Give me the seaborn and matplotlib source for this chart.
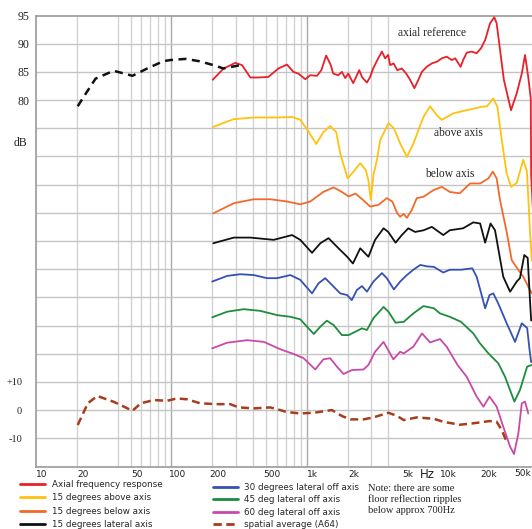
import numpy as np
import pandas as pd
import matplotlib
matplotlib.use("Agg")
import matplotlib.pyplot as plt
import matplotlib.transforms as mtransforms
from matplotlib.lines import Line2D
from matplotlib.ticker import NullLocator
import seaborn as sns

sns.set_theme(style="white")
plt.rcParams["font.family"] = ["DejaVu Sans"]
SERIF = "Liberation Serif"

# ---- measured responses (Hz, dB as plotted, each curve offset for clarity) ----
axial_lf_hz = [20.3, 22.5, 27.5, 37.4, 51.5, 66.2, 87.3, 98.3, 127, 160, 204, 242, 323]
axial_lf_db = [78.9, 80.6, 83.8, 85.2, 84.3, 85.6, 86.9, 87.1, 87.3, 86.9, 86.2, 85.6, 86.2]

axial_hz = [202, 243, 297, 332, 383, 438, 520, 617, 714, 796, 865, 975, 1061, 1190, 1281,
            1391, 1505, 1568, 1708, 1818, 1924, 2025, 2203, 2346, 2441, 2568, 2782, 2939,
            3093, 3370, 3591, 3792, 3995, 4131, 4379, 4665, 5040, 5427, 5800, 6240, 6680,
            7085, 7700, 8390, 9140, 9950, 10800, 11800, 12500, 13700, 14300, 15200, 16500,
            18000, 19400, 20800, 22600, 24300, 25300, 26800, 28600, 32300, 35600, 38800,
            41000, 43300, 45200, 45500, 47000]
axial_db = [83.6, 85.6, 86.6, 86.2, 84.0, 84.0, 84.1, 85.6, 86.3, 85.0, 84.7, 83.7, 84.4,
            84.3, 85.3, 87.9, 86.2, 84.7, 84.4, 85.0, 83.9, 84.7, 83.0, 84.4, 85.3, 84.0,
            83.1, 84.1, 85.6, 87.4, 88.6, 87.4, 88.0, 86.2, 86.5, 85.3, 85.6, 84.7, 83.6,
            82.1, 83.6, 85.0, 85.9, 86.5, 86.8, 87.4, 87.7, 87.1, 87.4, 85.9, 87.1, 88.4,
            88.6, 88.3, 89.2, 90.65, 93.6, 94.7, 93.6, 88.9, 83.6, 78.2, 81.2, 84.7, 88.0,
            84.1, 80.3, 66.7, 60.0]

above_hz = [202, 287, 403, 606, 778, 895, 1031, 1175, 1325, 1490, 1650, 1766, 1870, 2007,
            2214, 2483, 2727, 2849, 2975, 3109, 3299, 3488, 4014, 4401, 4899, 5490, 6134,
            7286, 8152, 9141, 9950, 12100, 15200, 19600, 21500, 23900, 25600, 27600, 30000,
            32300, 35600, 39800, 42300, 44600, 46000]
above_db = [75.2, 76.6, 76.9, 76.9, 77.0, 76.5, 74.4, 72.2, 74.3, 75.4, 74.3, 70.6, 68.5,
            66.1, 67.3, 68.8, 67.6, 65.8, 62.3, 66.7, 69.4, 72.9, 75.9, 75.0, 72.3, 69.9,
            72.3, 77.0, 78.9, 77.3, 76.5, 77.65, 78.2, 78.8, 78.9, 80.3, 78.8, 72.9, 67.0,
            64.6, 65.3, 69.4, 67.4, 56.9, 51.5]

below_hz = [204, 289, 406, 538, 715, 895, 1061, 1325, 1576, 1818, 2035, 2287, 2627, 2939,
            3389, 3905, 4283, 4665, 4899, 5200, 5490, 5970, 6500, 7300, 8600, 9950, 11400,
            13500, 16100, 19100, 22000, 23700, 25300, 26800, 30000, 32700, 36600, 39800,
            43300, 46000]
below_db = [59.9, 61.7, 62.4, 62.4, 62.0, 61.5, 62.0, 63.7, 64.5, 63.7, 62.9, 63.4, 62.2,
            61.1, 61.4, 62.6, 62.0, 59.9, 59.3, 59.8, 59.1, 60.5, 62.6, 62.85, 64.0, 64.6,
            63.7, 63.45, 65.2, 65.2, 66.1, 67.3, 66.1, 62.25, 56.6, 51.6, 49.85, 48.65,
            46.9, 45.7]

lat15_hz = [204, 289, 383, 570, 778, 895, 1093, 1260, 1448, 1716, 1988, 2192, 2483, 2855,
            3198, 3693, 4000, 4531, 5040, 5630, 6316, 7300, 8400, 9100, 10200, 11400, 14300,
            17000, 19100, 20800, 22800, 24600, 28300, 31800, 35600, 37600, 40500, 42900,
            44600, 45500]
lat15_db = [54.6, 55.6, 55.6, 55.2, 56.05, 55.2, 52.9, 54.6, 55.5, 53.7, 52.2, 51.0, 53.7,
            52.2, 55.2, 57.25, 56.6, 54.7, 56.05, 57.25, 56.6, 56.9, 57.5, 56.9, 56.05, 56.9,
            57.25, 58.3, 58.1, 54.7, 58.1, 56.9, 48.65, 46.0, 47.8, 48.4, 52.5, 52.0, 44.5,
            40.9]

lat30_hz = [200, 258, 323, 406, 509, 603, 757, 895, 1093, 1223, 1368, 1534, 1766, 1990,
            2150, 2346, 2557, 2782, 3109, 3591, 3905, 4401, 4899, 5490, 6134, 6900, 7700,
            8700, 10200, 11400, 13800, 16700, 18000, 19600, 20800, 22400, 23900, 26000,
            30000, 34600, 38800, 42500, 44300, 45500]
lat30_db = [47.8, 48.8, 49.1, 48.95, 48.4, 48.4, 48.95, 48.1, 45.7, 47.5, 48.4, 47.2, 45.7,
            45.4, 44.5, 46.3, 47.0, 46.0, 47.8, 49.3, 48.4, 46.4, 47.8, 48.95, 49.9, 50.75,
            50.5, 50.4, 49.4, 49.9, 49.9, 50.15, 48.65, 45.4, 43.05, 45.4, 45.7, 43.9, 40.4,
            37.1, 40.4, 39.55, 35.65, 33.5]

lat45_hz = [200, 258, 342, 453, 603, 757, 895, 1003, 1126, 1260, 1406, 1576, 1818, 2035,
            2287, 2557, 2782, 3109, 3693, 4014, 4531, 5200, 6134, 7286, 8700, 9650, 11400,
            13800, 17000, 19100, 22000, 26000, 29200, 34200, 37600, 42500, 46000]
lat45_db = [41.45, 42.45, 42.9, 42.6, 41.85, 41.55, 41.1, 39.8, 38.5, 39.8, 40.85, 40.1,
            38.3, 38.3, 38.9, 39.5, 39.2, 41.3, 43.3, 42.45, 40.5, 40.65, 42.15, 43.45, 43.05,
            42.15, 41.55, 40.65, 38.6, 36.8, 35.05, 33.3, 30.9, 26.5, 28.55, 32.7, 33.0]

lat60_hz = [200, 258, 362, 481, 636, 800, 947, 1155, 1325, 1490, 1670, 1870, 2155, 2627,
            2852, 3198, 3693, 4360, 4899, 5200, 6134, 7100, 8150, 9650, 10800, 13000, 15200,
            18000, 20200, 22400, 25300, 28300, 31800, 34000, 36600, 38800, 41000, 43300]
lat60_db = [35.95, 36.95, 37.4, 37.1, 35.8, 34.95, 34.2, 32.2, 34.0, 34.2, 32.7, 31.4, 32.1,
            32.2, 33.0, 35.35, 37.1, 34.0, 35.35, 35.05, 36.25, 38.6, 37.0, 37.6, 36.25, 33.0,
            30.9, 27.4, 25.6, 27.4, 25.6, 22.05, 18.5, 17.2, 20.85, 26.2, 26.5, 24.4]

# spatial average, relative dB on its own scale
spatial_hz = [20.3, 24.1, 28.3, 37.6, 51.5, 59.4, 74, 93, 110, 131, 163, 218, 272, 314, 406,
              538, 715, 895, 1130, 1534, 1818, 2100, 2627, 3109, 4014, 4665, 5200, 6500, 8700,
              10200, 13500, 17000, 22400, 25300, 27600, 30000]
spatial_db = [-5.3, 2.4, 5.0, 2.9, -0.25, 2.4, 3.55, 3.3, 4.15, 3.8, 2.4, 2.1, 2.1, 0.95,
              0.6, 0.95, -0.7, -1.2, -0.95, 0.0, -2.1, -3.3, -3.3, -2.6, -0.95, -2.1, -3.55,
              -2.6, -3.1, -4.15, -5.2, -4.7, -3.9, -4.15, -7.1, -11.25]

legend_labels = ["Axial frequency response", "15 degrees above axis", "15 degrees below axis",
                 "15 degrees lateral axis", "30 degrees lateral off axis",
                 "45 deg lateral off axis", "60 deg lateral off axis", "spatial average (A64)"]
colors = ["#e8202a", "#ffc20e", "#f26a2a", "#111111", "#3452b4", "#1d8c3d", "#c84aa8", "#a83c1c"]

xtick_vals = [10, 20, 50, 100, 200, 500, 1000, 2000, 5000, 10000, 20000]
xtick_text = ["10", "20", "50", "100", "200", "500", "1k", "2k", "5k", "10k", "20k"]
vgrid = [20, 40, 50, 60, 70, 80, 90, 100, 200, 300, 400, 500, 600, 700, 800, 900, 1000,
         2000, 3000, 4000]

# ---- figure ----
W, H = 532, 529
XMIN, XMAX = 9.98, 46160
fig = plt.figure(figsize=(W / 100, H / 100), dpi=100)
ax = fig.add_axes([36 / W, 62 / H, (W - 36) / W, 451.5 / H])
ax.set_xscale("log")

for f in vgrid:
    dark = f in (100, 1000)
    ax.axvline(f, color="#a8a8a8" if dark else "#d2d2d2", lw=1.0, zorder=0)
for yv in range(20, 95, 5):
    ax.axhline(yv, color="#c4c4c4", lw=1.0, zorder=0)

series = [(axial_hz, axial_db, colors[0]), (above_hz, above_db, colors[1]),
          (below_hz, below_db, colors[2]), (lat15_hz, lat15_db, colors[3]),
          (lat30_hz, lat30_db, colors[4]), (lat45_hz, lat45_db, colors[5]),
          (lat60_hz, lat60_db, colors[6])]
for hz, db, c in series:
    df = pd.DataFrame({"Hz": hz, "dB": db})
    sns.lineplot(data=df, x="Hz", y="dB", ax=ax, color=c, lw=1.3, sort=False,
                 estimator=None, zorder=3)

df_lf = pd.DataFrame({"Hz": axial_lf_hz, "dB": axial_lf_db})
sns.lineplot(data=df_lf, x="Hz", y="dB", ax=ax, color="#111111", lw=1.8, sort=False,
             estimator=None, zorder=4)
ax.lines[-1].set_dashes((3.2, 2.2))

ax.set_xlim(XMIN, XMAX)
ax.set_ylim(14.9, 95)
ax.set_xlabel("")
ax.set_ylabel("")
ax.set_xticks(xtick_vals)
ax.set_xticklabels(xtick_text)
ax.xaxis.set_minor_locator(NullLocator())
ax.tick_params(axis="x", length=0, pad=2.5, labelsize=6.5, colors="#222222")
offset = mtransforms.ScaledTranslation(6 / 100, 0, fig.dpi_scale_trans)
for lab in ax.get_xticklabels():
    lab.set_transform(lab.get_transform() + offset)

ax.set_yticks([80, 85, 90, 95])
ax.set_yticklabels(["80", "85", "90", "95"])
ax.tick_params(axis="y", length=0, pad=5, labelsize=8.5, colors="#222222")
for lab in ax.get_yticklabels():
    lab.set_fontfamily(SERIF)

for side in ("top", "bottom", "left"):
    ax.spines[side].set_color("#9a9a9a")
    ax.spines[side].set_linewidth(1.2)
ax.spines["right"].set_visible(False)

# spatial average on its own relative scale
ax2 = ax.twinx()
df_sp = pd.DataFrame({"Hz": spatial_hz, "dB": spatial_db})
sns.lineplot(data=df_sp, x="Hz", y="dB", ax=ax2, color=colors[7], lw=1.8, sort=False,
             estimator=None, zorder=4)
ax2.lines[-1].set_dashes((3.2, 1.8))
ax2.set_ylim(-20.2, 140)
ax2.set_xlim(XMIN, XMAX)
ax2.yaxis.tick_left()
ax2.set_yticks([-10, 0, 10])
ax2.set_yticklabels(["-10", "0", "+10"])
ax2.tick_params(axis="y", length=0, pad=10, labelsize=7.5, colors="#222222")
for lab in ax2.get_yticklabels():
    lab.set_fontfamily(SERIF)
ax2.set_ylabel("")
ax2.set_xlabel("")
for s in ax2.spines.values():
    s.set_visible(False)

# annotations
fig.text(20.5 / W, 1 - 143 / H, "dB", ha="center", va="center", fontsize=8.5,
         family=SERIF, color="#222222")
ax.text(8400, 91.9, "axial reference", ha="center", va="center", fontsize=8.3,
        family=SERIF, color="#222222")
ax.text(13100, 74.15, "above axis", ha="center", va="center", fontsize=8.3,
        family=SERIF, color="#222222")
ax.text(11400, 66.9, "below axis", ha="center", va="center", fontsize=8.3,
        family=SERIF, color="#222222")
fig.text(427 / W, 1 - 474 / H, "Hz", ha="center", va="center", fontsize=8.5, color="#222222")
fig.text(531.5 / W, 1 - 474 / H, "50k", ha="right", va="center", fontsize=6.5, color="#222222")
fig.text(368 / W, 1 - 484 / H,
         "Note: there are some\nfloor reflection ripples\nbelow approx 700Hz",
         ha="left", va="top", fontsize=7.5, family=SERIF, color="#222222", linespacing=1.2)

handles = []
for i, (lab, c) in enumerate(zip(legend_labels, colors)):
    h = Line2D([], [], color=c, lw=2.0, label=lab)
    if i == 7:
        h.set_dashes((3, 1.6))
    handles.append(h)

legend_font = {"family": ["DejaVu Sans Condensed", "DejaVu Sans"], "size": 6.3}
common = dict(frameon=False, prop=legend_font, handlelength=2.9, handletextpad=0.7,
              borderaxespad=0, borderpad=0)
fig.legend(handles=handles[:4], loc="upper left", bbox_to_anchor=(20 / W, 1 - 480 / H),
           labelspacing=0.5, **common)
fig.legend(handles=handles[4:], loc="upper left", bbox_to_anchor=(213 / W, 1 - 483 / H),
           labelspacing=0.38, **common)

fig.savefig("out.png", dpi=100)
